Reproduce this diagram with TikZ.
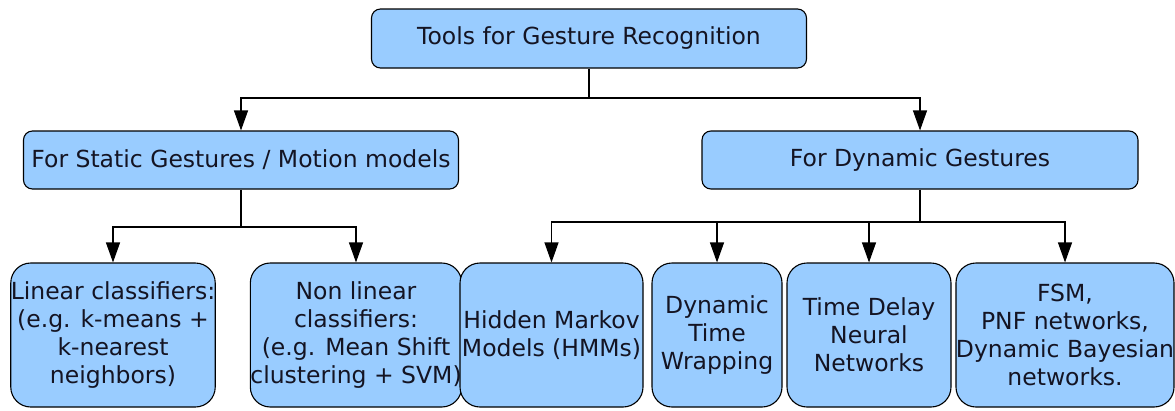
\documentclass[tikz,border=0pt]{standalone}
\usepackage{fontspec}
\setmainfont{DejaVu Sans}
\usetikzlibrary{arrows.meta}
\definecolor{boxblue}{RGB}{153,204,255}
\definecolor{txt}{RGB}{20,20,35}
\begin{document}
\begin{tikzpicture}[x=1pt,y=-1pt,
  box/.style={draw=black, line width=1.1pt, fill=boxblue, rounded corners=9pt,
    inner sep=0pt, align=center, font=\fontsize{23.5}{28}\selectfont, text=txt},
  leaf/.style={box, rounded corners=20pt},
  conn/.style={line width=1.1pt, draw=black},
  arr/.style={conn, -{Triangle[length=20pt,width=14pt]}}]
\useasboundingbox (0,0) rectangle (1175,410);
\node[box, minimum width=435pt, minimum height=59pt] (top) at (589,38.5) {Tools for Gesture Recognition};
\node[box, minimum width=435pt, minimum height=58pt] (static) at (241,160) {For Static Gestures / Motion models};
\node[box, minimum width=436pt, minimum height=58pt] (dyn) at (920,160) {For Dynamic Gestures};
\node[leaf, minimum width=202pt, minimum height=144pt] (lin) at (113,335) {Linear classifiers:\\(e.g. k-means +\\k-nearest\\neighbors)};
\node[leaf, minimum width=202pt, minimum height=144pt] (nonlin) at (356,335) {Non linear\\classifiers:\\(e.g. Mean Shift\\clustering + SVM)};
\node[leaf, minimum width=183pt, minimum height=144pt] (hmm) at (551.5,335) {Hidden Markov\\Models (HMMs)};
\node[leaf, minimum width=130pt, minimum height=144pt] (dtw) at (717,335) {Dynamic\\Time\\Wrapping};
\node[leaf, minimum width=164pt, minimum height=144pt] (tdnn) at (869,335) {Time Delay\\Neural\\Networks};
\node[leaf, minimum width=214pt, minimum height=144pt] (fsm) at (1065,335) {FSM,\\PNF networks,\\Dynamic Bayesian\\networks.};
\coordinate (j0) at (589,98);
\coordinate (j1) at (241,227);
\coordinate (j2) at (920,222);
\draw[conn] (top.south) -- (j0);
\draw[arr] (j0) -| (static.north);
\draw[arr] (j0) -| (dyn.north);
\draw[conn] (static.south) -- (j1);
\draw[arr] (j1) -| (lin.north);
\draw[arr] (j1) -| (nonlin.north);
\draw[conn] (dyn.south) -- (j2);
\draw[arr] (j2) -| (hmm.north);
\draw[arr] (j2) -| (dtw.north);
\draw[arr] (j2) -| (tdnn.north);
\draw[arr] (j2) -| (fsm.north);
\end{tikzpicture}
\end{document}
